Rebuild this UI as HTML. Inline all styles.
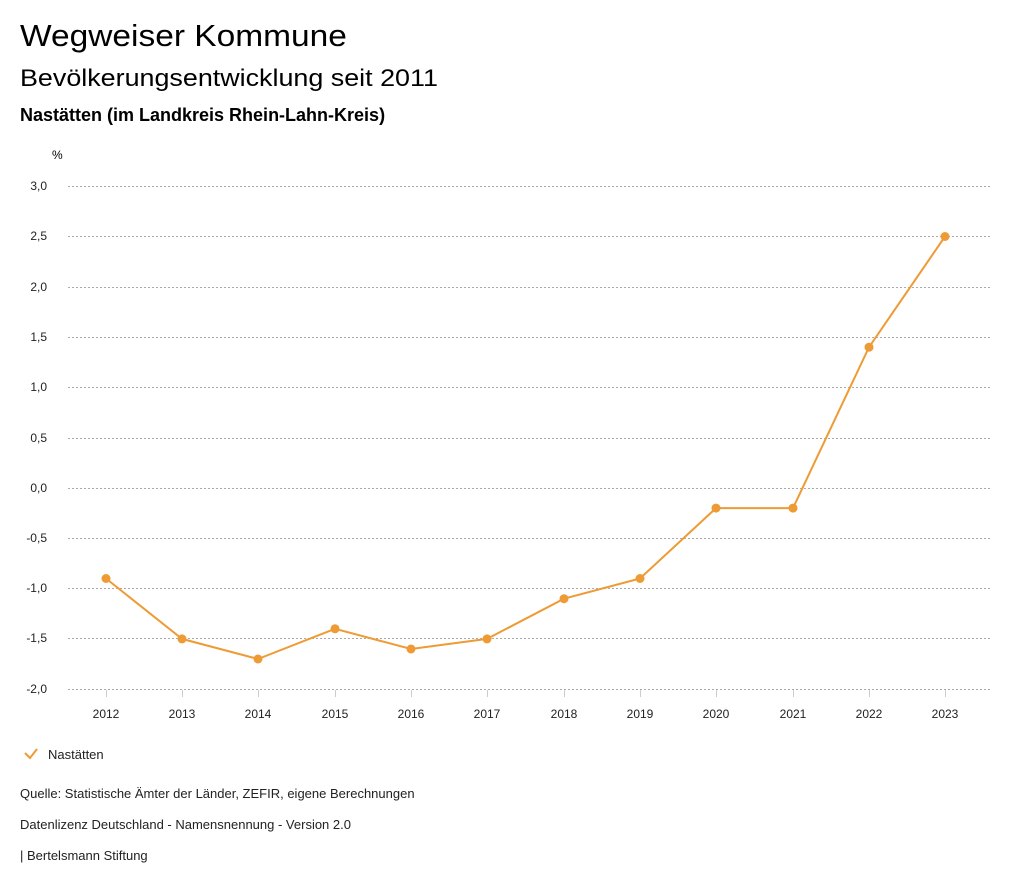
<!DOCTYPE html>
<html><head><meta charset="utf-8"><style>
body{margin:0;background:#fff;width:1024px;height:888px;overflow:hidden;font-family:"Liberation Sans","DejaVu Sans",sans-serif;color:#000}
.t{position:absolute;white-space:nowrap;transform-origin:0 0}
</style></head><body>
<div class="t" style="left:20px;top:18px;font-size:31px;transform:scaleX(1.08)">Wegweiser Kommune</div>
<div class="t" style="left:20px;top:65px;font-size:24px;transform:scaleX(1.12)">Bevölkerungsentwicklung seit 2011</div>
<div class="t" style="left:20px;top:105px;font-size:18px;font-weight:bold">Nastätten (im Landkreis Rhein-Lahn-Kreis)</div>
<svg width="1024" height="888" style="position:absolute;left:0;top:0" font-family="Liberation Sans, DejaVu Sans, sans-serif" font-size="12">
<text x="52" y="159">%</text>
<g stroke="#aaa" stroke-dasharray="2,2" stroke-width="1">
<line x1="68" x2="990" y1="186.5" y2="186.5"/><line x1="68" x2="990" y1="236.5" y2="236.5"/>
<line x1="68" x2="990" y1="287.5" y2="287.5"/><line x1="68" x2="990" y1="337.5" y2="337.5"/>
<line x1="68" x2="990" y1="387.5" y2="387.5"/><line x1="68" x2="990" y1="438.5" y2="438.5"/>
<line x1="68" x2="990" y1="488.5" y2="488.5"/><line x1="68" x2="990" y1="538.5" y2="538.5"/>
<line x1="68" x2="990" y1="588.5" y2="588.5"/><line x1="68" x2="990" y1="638.5" y2="638.5"/>
<line x1="68" x2="990" y1="689.5" y2="689.5"/>
</g>
<g text-anchor="end" fill="#222">
<text x="47" y="190">3,0</text><text x="47" y="240">2,5</text><text x="47" y="291">2,0</text>
<text x="47" y="341">1,5</text><text x="47" y="391">1,0</text><text x="47" y="442">0,5</text>
<text x="47" y="492">0,0</text><text x="47" y="542">-0,5</text><text x="47" y="592">-1,0</text>
<text x="47" y="642">-1,5</text><text x="47" y="693">-2,0</text>
</g>
<g stroke="#ccc"><line x1="106.5" x2="106.5" y1="690" y2="697"/><line x1="182.5" x2="182.5" y1="690" y2="697"/><line x1="258.5" x2="258.5" y1="690" y2="697"/><line x1="335.5" x2="335.5" y1="690" y2="697"/><line x1="411.5" x2="411.5" y1="690" y2="697"/><line x1="487.5" x2="487.5" y1="690" y2="697"/><line x1="564.5" x2="564.5" y1="690" y2="697"/><line x1="640.5" x2="640.5" y1="690" y2="697"/><line x1="716.5" x2="716.5" y1="690" y2="697"/><line x1="793.5" x2="793.5" y1="690" y2="697"/><line x1="869.5" x2="869.5" y1="690" y2="697"/><line x1="945.5" x2="945.5" y1="690" y2="697"/></g>
<g text-anchor="middle" fill="#222">
<text x="106" y="718">2012</text><text x="182" y="718">2013</text><text x="258" y="718">2014</text><text x="335" y="718">2015</text><text x="411" y="718">2016</text><text x="487" y="718">2017</text><text x="564" y="718">2018</text><text x="640" y="718">2019</text><text x="716" y="718">2020</text><text x="793" y="718">2021</text><text x="869" y="718">2022</text><text x="945" y="718">2023</text>
</g>
<polyline fill="none" stroke="#EE9B35" stroke-width="2" points="106,578.5 182,638.9 258,659 335,628.8 411,649 487,638.9 564,598.7 640,578.5 716,508.1 793,508.1 869,347.2 945,236.5"/>
<g fill="#EE9B35">
<circle cx="106" cy="578.5" r="4.5"/><circle cx="182" cy="638.9" r="4.5"/><circle cx="258" cy="659" r="4.5"/><circle cx="335" cy="628.8" r="4.5"/><circle cx="411" cy="649" r="4.5"/><circle cx="487" cy="638.9" r="4.5"/><circle cx="564" cy="598.7" r="4.5"/><circle cx="640" cy="578.5" r="4.5"/><circle cx="716" cy="508.1" r="4.5"/><circle cx="793" cy="508.1" r="4.5"/><circle cx="869" cy="347.2" r="4.5"/><circle cx="945" cy="236.5" r="4.5"/>
</g>
<polyline points="25,753 30,758 37,749" fill="none" stroke="#EE9B35" stroke-width="2"/>
<text x="48" y="759" font-size="13" fill="#222">Nastätten</text>
<text x="20" y="798" font-size="13" fill="#222">Quelle: Statistische Ämter der Länder, ZEFIR, eigene Berechnungen</text>
<text x="20" y="829" font-size="13" fill="#222">Datenlizenz Deutschland - Namensnennung - Version 2.0</text>
<text x="20" y="860" font-size="13" fill="#222">| Bertelsmann Stiftung</text>
</svg>
</body></html>
